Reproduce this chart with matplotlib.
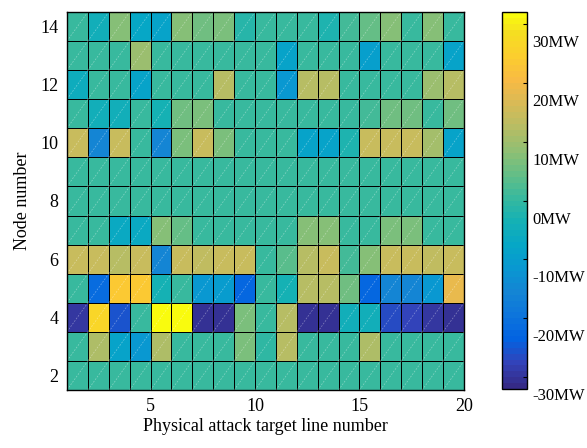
#!/usr/bin/env python3
# Power change at each node for every physical attack target line

import numpy as np
import matplotlib
matplotlib.use('Agg')
import matplotlib.pyplot as plt
from matplotlib.colors import LinearSegmentedColormap
from matplotlib.collections import LineCollection
from matplotlib.transforms import ScaledTranslation

line_num = list(range(1, 21))   # grid edges along the line axis
node_num = list(range(2, 15))   # one row per node

# power change (MW), one list per node, columns are lines 1..19
node2 = [0, 0, 0, 0, 0, 0, 0, 0, 0, 0, 0, 0, 0, 0, 0, 0, 0, 0, 0]
node3 = [0, 11, -9, -12, 11, 0, 0, 0, 6, -1, 12, 0, 0, 0, 11, 0, 0, 0, 0]
node4 = [-30, 26, -26, 0, 32, 32, -31, -31, 6, 0, 12, -31, -31, -5, -5, -27, -28, -30, -31]
node5 = [0, -22, 23, 23, -4, 0, -12, -11, -23, 0, -4, 12, 12, 5, -23, -16, -16, -12, 18]
node6 = [14, 14, 12, 14, -16, 14, 13, 14, 14, 0, 3, 12, 14, 1, 7, 14, 14, 13, 14]
node7 = [0, 0, -7, -7, 7, 4, 0, 0, 0, 0, 0, 7, 7, 0, 0, 6, 6, 0, 0]
node8 = [0, 0, 0, 0, 0, 0, 0, 0, 0, 0, 0, 0, 0, 0, 0, 0, 0, 0, 0]
node9 = [0, 0, 0, 0, 0, 0, 0, 0, 0, 0, 0, 0, 0, 0, 0, 0, 0, 0, 0]
node10 = [14, -16, 14, 0, -16, 6, 14, 6, 0, 0, 0, -9, -9, -3, 14, 14, 14, 10, -9]
node11 = [0, -5, -5, 0, -4, 5, 6, 0, 0, 0, 0, 0, 0, 0, 1, 5, 5, 0, 5]
node12 = [-6, 0, 0, -9, 0, 0, 0, 12, 0, 0, -12, 12, 12, 0, 0, 0, 0, 9, 12]
node13 = [0, 0, 0, 9, 0, 0, 0, 0, 0, 0, -9, 0, 0, 0, -10, 0, 0, 0, -9]
node14 = [0, -5, 7, -8, -9, 7, 5, 6, -2, 0, 0, 0, -3, 1, 4, 7, 0, 7, 0]

cbar_ticks = [-30, -20, -10, 0, 10, 20, 30]
cbar_labels = ['-30MW', '-20MW', '-10MW', '0MW', '10MW', '20MW', '30MW']

# parula, sampled every 4th entry of the 64 colour table
parula_pts = [
	(0.2081, 0.1663, 0.5292), (0.1959, 0.2645, 0.7279), (0.0117, 0.3875, 0.8820),
	(0.0498, 0.4586, 0.8641), (0.0793, 0.5200, 0.8312), (0.0343, 0.5966, 0.8199),
	(0.0228, 0.6535, 0.7768), (0.0843, 0.6928, 0.7062), (0.2178, 0.7250, 0.6193),
	(0.3953, 0.7459, 0.5244), (0.5709, 0.7485, 0.4494), (0.7184, 0.7411, 0.3905),
	(0.8507, 0.7299, 0.3360), (0.9739, 0.7314, 0.2666), (0.9880, 0.8066, 0.1794),
	(0.9626, 0.8705, 0.1309), (0.9763, 0.9831, 0.0538)]
parula_pos = [i*4/63 for i in range(16)] + [1.0]


def main():
	plt.rcParams['font.family'] = 'Liberation Serif'
	parula = LinearSegmentedColormap.from_list('parula', list(zip(parula_pos, parula_pts)), N=64)

	Z = np.array([node2, node3, node4, node5, node6, node7, node8, node9,
		node10, node11, node12, node13, node14])
	x = np.array(line_num, dtype=float)
	y = np.append(np.array(node_num) - 0.5, node_num[-1] + 0.5)

	fig = plt.figure(figsize=(5.87, 4.48), dpi=100)
	ax = fig.add_axes([0.1141, 0.1295, 0.6763, 0.8437])
	cax = fig.add_axes([0.8552, 0.1317, 0.0426, 0.8415])

	mesh = ax.pcolormesh(x, y, Z, cmap=parula, vmin=-32, vmax=32,
		edgecolors='black', linewidth=0.7)

	#faint diagonal in every face
	segs = [[(x[i], y[j]), (x[i+1], y[j+1])] for j in range(len(y)-1) for i in range(len(x)-1)]
	ax.add_collection(LineCollection(segs, colors='white', linewidths=0.5,
		linestyles=(0, (2.5, 2)), alpha=0.4))

	ax.set_xlim(x[0], x[-1])
	ax.set_ylim(y[0], y[-1])
	ax.set_xticks([5, 10, 15, 20])
	ax.set_yticks(node_num[::2])
	ax.tick_params(labelsize=13, length=0, pad=6)
	for s in ax.spines.values():
		s.set_linewidth(1.0)

	ax.set_xlabel('Physical attack target line number', fontsize=13, labelpad=2)
	ax.set_ylabel('Node number', fontsize=13, labelpad=7)

	cb = fig.colorbar(mesh, cax=cax, ticks=cbar_ticks)
	cb.ax.set_yticklabels(cbar_labels)
	cb.ax.tick_params(direction='in', length=3, width=0.8, labelsize=12, pad=4)
	cb.outline.set_linewidth(1.0)
	shift = ScaledTranslation(0, -0.17, fig.dpi_scale_trans)
	for lab in cb.ax.get_yticklabels():
		lab.set_transform(lab.get_transform() + shift)

	plt.savefig('out.png', dpi=100)


main()
